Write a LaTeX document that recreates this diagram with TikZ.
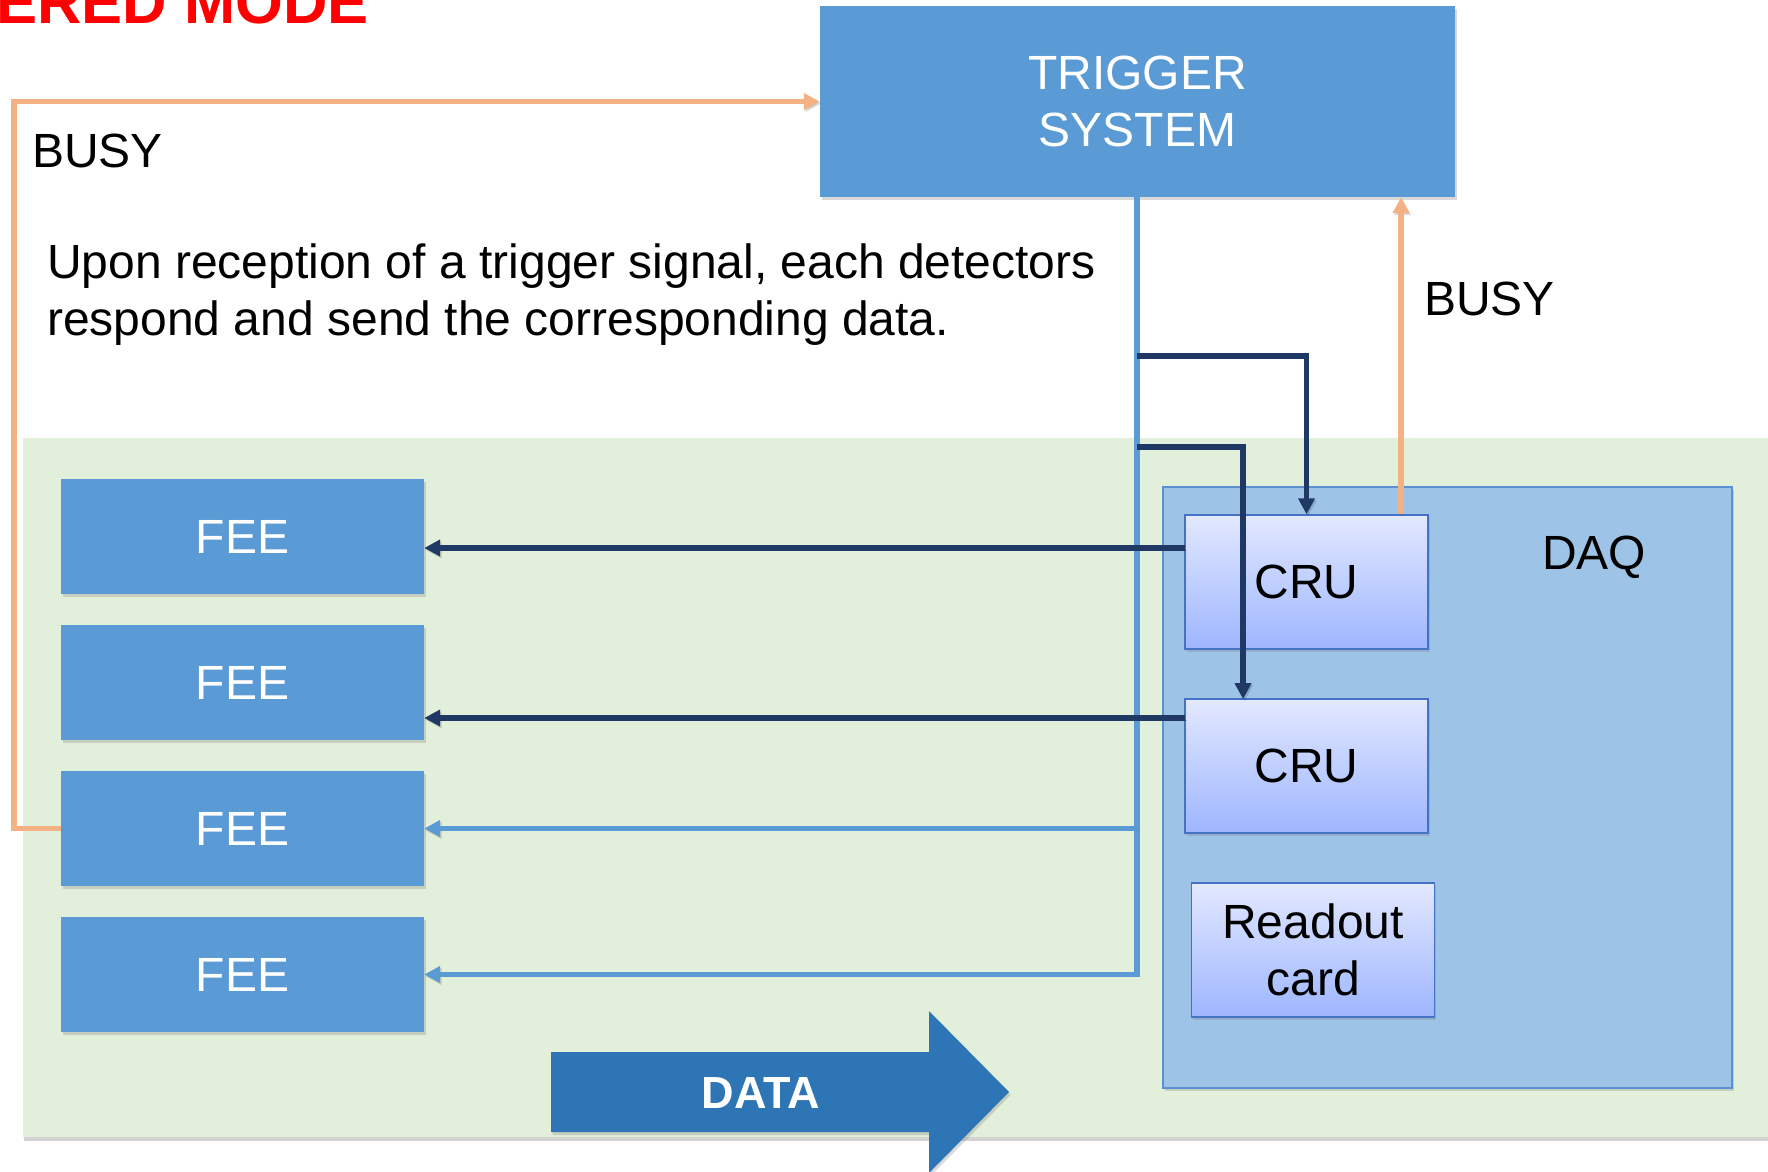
\documentclass[tikz,border=0pt]{standalone}
\usepackage{fontspec}
\setmainfont{Liberation Sans}
\usetikzlibrary{arrows.meta,shadows}
\definecolor{feeblue}{RGB}{91,155,213}
\definecolor{bggreen}{RGB}{226,239,218}
\definecolor{daqfill}{RGB}{157,195,230}
\definecolor{daqborder}{RGB}{91,145,210}
\definecolor{crutop}{RGB}{226,232,255}
\definecolor{crubot}{RGB}{158,182,255}
\definecolor{cruborder}{RGB}{68,114,196}
\definecolor{navy}{RGB}{32,56,100}
\definecolor{busyor}{RGB}{244,177,131}
\definecolor{databl}{RGB}{46,117,182}
\tikzset{
  big/.style={font=\fontsize{48}{57}\selectfont},
  box/.style={rectangle, inner sep=0pt, big, align=center},
  shad/.style={drop shadow={opacity=0.3, shadow xshift=1.5pt, shadow yshift=-3pt}},
  feebox/.style={box, shad, fill=feeblue, text=white, minimum width=363pt, minimum height=115pt},
  trigbox/.style={box, shad, fill=feeblue, text=white, minimum width=635pt, minimum height=191pt},
  crubox/.style={box, shad, draw=cruborder, line width=1.5pt, top color=crutop, bottom color=crubot, minimum width=243pt, minimum height=134pt},
  tip/.style={-{Triangle[length=16pt,width=16pt]}},
  linesh/.style={preaction={draw=black, opacity=0.15, transform canvas={xshift=1.5pt,yshift=-2pt}}},
  navyline/.style={linesh, draw=navy, line width=5.5pt, tip},
  lbline/.style={linesh, draw=feeblue, line width=5.5pt, tip},
  orline/.style={linesh, draw=busyor, line width=5.5pt, tip},
  lbl/.style={big, inner sep=0pt, text=black}
}
\begin{document}
\begin{tikzpicture}[x=1pt,y=-1pt]
\useasboundingbox (0,0) rectangle (1768,1171);
\clip (0,0) rectangle (1768,1171);

% title (cut off at the top, as in the reference)
\node[anchor=base west, inner sep=0pt, text=red, font=\bfseries\fontsize{61.5}{72}\selectfont] (title) at (-4,23) {ERED MODE};

% green background
\node[rectangle, inner sep=0pt, fill=bggreen, minimum width=1777pt, minimum height=699pt,
      drop shadow={opacity=0.35, shadow xshift=1pt, shadow yshift=-4pt}] (bg) at (911.5,787.5) {};

% DAQ
\node[rectangle, inner sep=0pt, fill=daqfill, draw=daqborder, line width=1.5pt, minimum width=569pt, minimum height=601pt, shad] (daq) at (1447.5,787.5) {};
\node[lbl, anchor=base west] (daqlbl) at (1542,569) {DAQ};

% trigger
\node[trigbox] (trig) at (1137.5,101.5) {TRIGGER\\SYSTEM};

% FEEs
\node[feebox] (fee1) at (242.5,536.5) {FEE};
\node[feebox] (fee2) at (242.5,682.5) {FEE};
\node[feebox] (fee3) at (242.5,828.5) {FEE};
\node[feebox] (fee4) at (242.5,974.5) {FEE};

% CRUs and readout
\node[crubox] (cru1) at (1306.5,582) {CRU};
\node[crubox] (cru2) at (1306.5,766) {CRU};
\node[crubox] (ro) at (1313,950) {Readout\\card};

% texts
\node[lbl, anchor=base west] (busyl) at (32,167) {BUSY};
\node[lbl, anchor=base west] (busyr) at (1424,315) {BUSY};
\node[lbl, anchor=west, align=left] (para) at (47,295) {Upon reception of a trigger signal, each detectors\\respond and send the corresponding data.};

% trigger trunk (light blue)
\coordinate (t0) at (1137,197);
\draw[lbline] (t0) |- (fee4.east);
\coordinate (j3) at (1137,828.5);
\draw[lbline] (j3) -- (fee3.east);

% navy branches to CRUs
\coordinate (j1) at (1137,356);
\coordinate (j2) at (1137,447);
\coordinate (c2top) at (1243,699);
\draw[navyline] (j1) -| (cru1.north);
\draw[navyline] (j2) -| (c2top);

% CRUs to FEEs
\coordinate (c1w) at (1185,548);
\coordinate (c2w) at (1185,718);
\draw[navyline] (c1w) -- (c1w -| fee1.east);
\draw[navyline] (c2w) -- (c2w -| fee2.east);

% BUSY from CRU to trigger
\coordinate (b1) at (1401,514);
\draw[orline] (b1) -- (b1 |- trig.south);

% BUSY from FEE to trigger
\draw[orline] (fee3.west) -- ++(-47,0) |- (trig.west);

% DATA arrow
\fill[databl, drop shadow={opacity=0.3, shadow xshift=1.5pt, shadow yshift=-3pt}] (551,1052) -- (929,1052) -- (929,1011) -- (1009,1092) -- (929,1173) -- (929,1132) -- (551,1132) -- cycle;
\node[inner sep=0pt, text=white, font=\bfseries\fontsize{45}{52}\selectfont] (data) at (761,1093) {DATA};
\end{tikzpicture}
\end{document}
